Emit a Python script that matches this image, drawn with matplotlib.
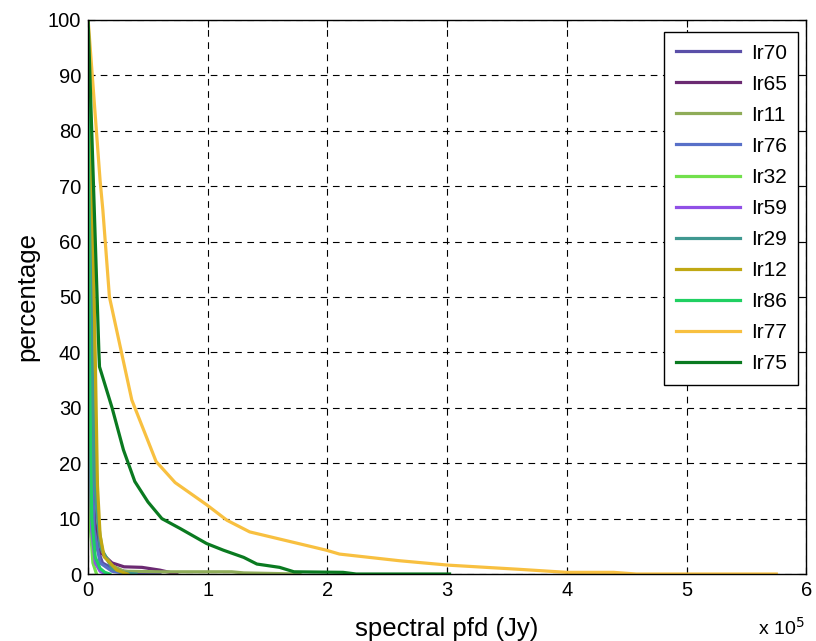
import matplotlib
matplotlib.use("Agg")
import matplotlib.pyplot as plt
from matplotlib.ticker import FuncFormatter, MultipleLocator

plt.rcParams['font.family'] = ['Liberation Sans', 'DejaVu Sans']

# x values in Jy, y values in percent
names = ["Ir70", "Ir65", "Ir11", "Ir76", "Ir32", "Ir59", "Ir29", "Ir12", "Ir86", "Ir77", "Ir75"]
colors = ["#5a4fa8", "#6b2a72", "#8fac58", "#5870c8", "#72e04c", "#9050e6",
          "#3f9890", "#c0a814", "#20d062", "#f8c040", "#0a7a20"]

ir70_x = [0, 2e3, 4e3, 7e3, 12e3, 20e3, 30e3, 45e3, 60e3]
ir70_y = [100, 40, 15, 5, 2, 1, 0.5, 0.2, 0]
ir65_x = [0, 2e3, 5e3, 10e3, 20e3, 30e3, 45e3, 60e3, 74e3]
ir65_y = [100, 30, 10, 4, 2, 1.3, 1.2, 0.7, 0]
ir11_x = [0, 4e3, 8e3, 12e3, 20e3, 30e3, 60e3, 120e3, 130e3, 177e3]
ir11_y = [100, 40, 10, 4, 1.5, 0.5, 0.4, 0.4, 0.2, 0]
ir76_x = [0, 2e3, 5e3, 10e3, 20e3, 35e3]
ir76_y = [100, 30, 8, 2, 0.5, 0]
ir32_x = [0, 1e3, 2e3, 4e3, 7e3]
ir32_y = [100, 30, 8, 2, 0]
ir59_x = [0, 1e3, 3e3, 6e3, 10e3, 15e3]
ir59_y = [100, 30, 8, 2, 0.5, 0]
ir29_x = [0, 3e3, 6e3, 10e3, 20e3, 30e3, 40e3]
ir29_y = [100, 40, 15, 5, 1, 0.2, 0]
ir12_x = [0, 5e3, 7.8e3, 10e3, 13.4e3, 24e3, 33e3]
ir12_y = [100, 51, 16, 7, 3.1, 0.7, 0]
ir86_x = [0, 1e3, 3e3, 6e3, 10e3, 14e3, 18e3]
ir86_y = [100, 40, 10, 3, 1, 0.3, 0]
ir77_x = [0, 10e3, 12.3e3, 17.8e3, 36.5e3, 56.8e3, 72.7e3, 99e3, 116e3, 135e3,
          199e3, 210e3, 260e3, 301e3, 360e3, 400e3, 439e3, 458e3, 575e3]
ir77_y = [100, 71, 65.7, 50, 31.4, 20.3, 16.5, 12.5, 9.7, 7.6,
          4.3, 3.6, 2.4, 1.6, 0.85, 0.3, 0.3, 0, 0]
ir75_x = [0, 3e3, 6e3, 9e3, 9.5e3, 20e3, 29.5e3, 39e3, 50e3, 61.6e3, 77e3,
          99e3, 113e3, 130e3, 141e3, 160e3, 172e3, 213e3, 224e3, 302e3]
ir75_y = [100, 80, 60, 40, 37.4, 30, 22.4, 16.7, 13, 10, 8.2,
          5.5, 4.3, 3, 1.8, 1.2, 0.4, 0.3, 0, 0]

xs = [ir70_x, ir65_x, ir11_x, ir76_x, ir32_x, ir59_x, ir29_x, ir12_x, ir86_x, ir77_x, ir75_x]
ys = [ir70_y, ir65_y, ir11_y, ir76_y, ir32_y, ir59_y, ir29_y, ir12_y, ir86_y, ir77_y, ir75_y]

fig = plt.figure(figsize=(8.16, 6.41), dpi=100)
ax = fig.add_axes([0.108, 0.1045, 0.880, 0.8645])

for x, y, n, c in zip(xs, ys, names, colors):
    ax.plot(x, y, color=c, lw=2.3, label=n)

ax.set_xlim(0, 6e5)
ax.set_ylim(0, 100)
ax.xaxis.set_major_locator(MultipleLocator(1e5))
ax.yaxis.set_major_locator(MultipleLocator(10))
ax.xaxis.set_major_formatter(FuncFormatter(lambda v, p: f"{v/1e5:g}"))
ax.grid(True, color="black", ls=(0, (6, 5)), lw=0.8)
ax.tick_params(direction="in", top=True, right=True, labelsize=14.5, length=5, pad=5)
for s in ax.spines.values():
    s.set_linewidth(1.0)

ax.set_xlabel("spectral pfd (Jy)", fontsize=18.5, labelpad=12)
ax.set_ylabel("percentage", fontsize=18.5, labelpad=6)
fig.text(0.929, 0.004, r"x 10$^5$", fontsize=14, ha="left", va="bottom")

leg = ax.legend(loc="upper right", fontsize=15, frameon=True, fancybox=False,
                edgecolor="black", framealpha=1, handlelength=3.1, handletextpad=0.5,
                labelspacing=0.58, borderpad=0.55, borderaxespad=0,
                bbox_to_anchor=(0.989, 0.978))
leg.get_frame().set_linewidth(1.0)

fig.savefig("out.png", dpi=100)
